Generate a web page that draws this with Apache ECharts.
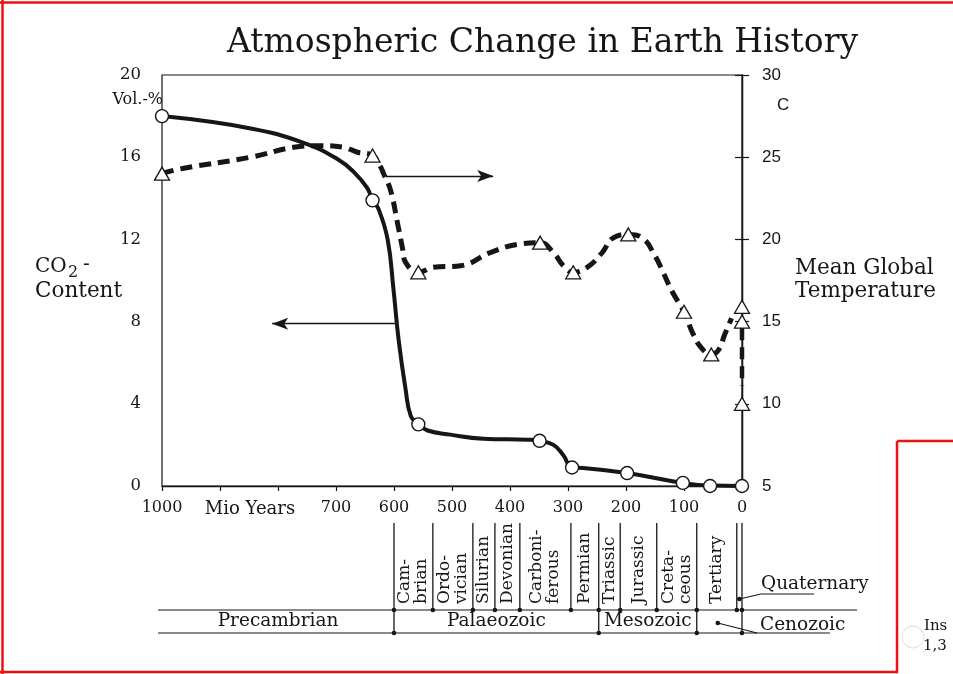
<!DOCTYPE html>
<html>
<head>
<meta charset="utf-8">
<script src="https://cdn.jsdelivr.net/npm/echarts@6/dist/echarts.min.js"></script>
<style>
html,body{margin:0;padding:0;background:#fff;}
#chart{width:953px;height:674px;}
</style>
</head>
<body>
<div id="chart"></div>
<script>
// ---------------- data ----------------
const xTickLabels = ['0','100','200','300','400','500','600','700','','Mio Years','1000'];
// CO2 content (Vol.-%) vs. time (Mio years before present)
const co2Curve = [[1000,18.0],[847,17.4],[756,16.7],[697,15.9],[670,15.3],[646,14.5],[637,13.9],[627,13.5],[611,12.0],[601,9.6],[592,7.1],[580,4.7],[571,3.4],[558,3.0],[542,2.7],[503,2.5],[446,2.3],[370,2.25],[349,2.2],[325,2.0],[308,1.5],[293,0.9],[274,0.88],[198,0.63],[102,0.15],[55,0.02],[0,0]];
const co2Circles = [[1000,18.0],[637,13.9],[558,3.0],[349,2.2],[293,0.9],[198,0.63],[102,0.15],[55,0],[0,0]];
// mean global temperature (C)
const tempCurve = [[1000,24.0],[967,24.3],[847,25.0],[773,25.6],[731,25.7],[687,25.6],[663,25.3],[637,25.1],[623,24.4],[618,24.0],[606,23.0],[594,21.0],[585,19.4],[580,18.6],[558,18.0],[532,18.3],[485,18.4],[434,19.2],[387,19.7],[348,19.8],[325,19.2],[308,18.4],[291,18.0],[267,18.3],[241,19.2],[222,20.1],[196,20.3],[172,20.1],[150,19.0],[136,18.0],[120,16.8],[100,15.6],[85,14.3],[70,13.4],[53,13.0],[40,13.3],[30,14.2],[18,15.2]];
const tempRecentDrop = [[0,14.6],[0,11.1]];
const tempTriangles = [[1000,24.0],[637,25.1],[558,18.0],[348,19.8],[291,18.0],[196,20.3],[100,15.6],[53,13.0],[0,15.9],[0,15.0],[0,10.0]];
// arrows: which axis each curve belongs to
const co2Arrow = [[595,7.9],[810,7.9]];
const tempArrow = [[614,23.86],[429,23.86]];
// geological time scale
const periods = [['Cam-\nbrian',600,533],['Ordo-\nvician',533,464],['Silurian',464,426],['Devonian',426,383],['Carboni-\nferous',383,295],['Permian',295,247],['Triassic',247,210],['Jurassic',210,147],['Creta-\nceous',147,78],['Tertiary',78,9],['Quaternary',9,0]];
const eras = [['Precambrian',1000,600],['Palaeozoic',600,247],['Mesozoic',247,78],['Cenozoic',78,0]];

// ---------------- styles ----------------
const INK = '#161616';
const SERIF = '"DejaVu Serif", serif';
const SANS = '"Liberation Sans", sans-serif';
const ROW1 = 87;   // offset of first table row line inside the table grid
const RED = '#ee1111';

const chart = echarts.init(document.getElementById('chart'), null, {renderer:'canvas'});

function periodItem(params, api) {
  const cs = params.coordSys;
  const x1 = api.coord([api.value(0), 0])[0];
  const x2 = api.coord([api.value(1), 0])[0];
  const top = cs.y, r1 = cs.y + ROW1;
  const name = periods[params.dataIndex][0];
  const ch = [
    {type:'line', shape:{x1:x1, y1:top, x2:x1, y2:r1}, style:{stroke:INK, lineWidth:1.3}},
    {type:'circle', shape:{cx:x1, cy:r1, r:2.3}, style:{fill:INK}}
  ];
  if (params.dataIndex === periods.length - 1) {
    const dx = (x1 + x2) / 2, dy = r1 - 11;
    ch.push({type:'circle', shape:{cx:dx, cy:dy, r:2.3}, style:{fill:INK}});
    ch.push({type:'polyline', shape:{points:[[dx,dy],[x2+19,r1-16],[x2+72,r1-16]]}, style:{stroke:INK, lineWidth:1.2, fill:null}});
    ch.push({type:'text', x:x2+19, y:r1-26, style:{text:name, align:'left', verticalAlign:'middle', fontFamily:SERIF, fontSize:18.5, fill:INK}});
  } else {
    ch.push({type:'text', x:(x1+x2)/2, y:r1-6, rotation:Math.PI/2,
      style:{text:name, align:'left', verticalAlign:'middle', fontFamily:SERIF, fontSize:17, lineHeight:17, fill:INK}});
  }
  return {type:'group', children:ch};
}

function eraItem(params, api) {
  const cs = params.coordSys;
  const x1 = api.coord([api.value(0), 0])[0];
  const x2 = api.coord([api.value(1), 0])[0];
  const top = cs.y, r1 = cs.y + ROW1, r2 = cs.y + cs.height;
  const name = eras[params.dataIndex][0];
  const last = params.dataIndex === eras.length - 1;
  const ch = [];
  if (params.dataIndex === 0) {
    const xr = api.coord([0, 0])[0];
    ch.push({type:'line', shape:{x1:x1-4, y1:r1, x2:xr+115, y2:r1}, style:{stroke:INK, lineWidth:1.2}});
    ch.push({type:'line', shape:{x1:x1-4, y1:r2, x2:xr+88, y2:r2}, style:{stroke:INK, lineWidth:1.2}});
  } else {
    ch.push({type:'line', shape:{x1:x1, y1:r1, x2:x1, y2:r2}, style:{stroke:INK, lineWidth:1.3}});
    ch.push({type:'circle', shape:{cx:x1, cy:r2, r:2.3}, style:{fill:INK}});
  }
  if (last) {
    ch.push({type:'line', shape:{x1:x2, y1:top, x2:x2, y2:r2}, style:{stroke:INK, lineWidth:1.3}});
    ch.push({type:'circle', shape:{cx:x2, cy:r1, r:2.3}, style:{fill:INK}});
    ch.push({type:'circle', shape:{cx:x2, cy:r2, r:2.3}, style:{fill:INK}});
    const dx = x1 + 21, dy = r2 - 10;
    ch.push({type:'circle', shape:{cx:dx, cy:dy, r:2.3}, style:{fill:INK}});
    ch.push({type:'line', shape:{x1:dx, y1:dy, x2:x2+15, y2:r2}, style:{stroke:INK, lineWidth:1.2}});
    ch.push({type:'text', x:x2+18, y:r2-8, style:{text:name, align:'left', verticalAlign:'middle', fontFamily:SERIF, fontSize:18.5, fill:INK}});
  } else {
    ch.push({type:'text', x:(x1+x2)/2, y:(r1+r2)/2, style:{text:name, align:'center', verticalAlign:'middle', fontFamily:SERIF, fontSize:18.5, fill:INK}});
  }
  return {type:'group', children:ch};
}

const option = {
  animation: false,
  backgroundColor: '#fff',
  title: {
    text: 'Atmospheric Change in Earth History',
    left: 222, top: 22,
    textStyle: {fontFamily: SERIF, fontSize: 33, fontWeight: 'normal', color: INK}
  },
  grid: [
    {left:162, right:211, top:75, bottom:188, show:true, borderColor:INK, borderWidth:1.2},
    {left:162, right:211, top:523, bottom:41}
  ],
  xAxis: [
    {type:'value', gridIndex:0, min:0, max:1000, interval:100, inverse:true,
     splitLine:{show:false},
     axisLine:{lineStyle:{color:INK, width:1.3}},
     axisTick:{length:5, lineStyle:{color:INK, width:1.2}},
     axisLabel:{color:INK, fontFamily:SERIF, fontSize:16, margin:14,
       formatter: v => { const s = xTickLabels[Math.round(v/100)]; return s === 'Mio Years' ? '{m|' + s + '}' : s; },
       rich:{m:{fontFamily:SERIF, fontSize:18, color:INK, padding:[0,0,0,60]}}}},
    {type:'value', gridIndex:1, min:0, max:1000, inverse:true, show:false}
  ],
  yAxis: [
    {type:'value', gridIndex:0, min:0, max:20, interval:4, position:'left',
     splitLine:{show:false},
     axisLine:{show:true, lineStyle:{color:INK, width:1.3}},
     axisTick:{show:true, length:7, lineStyle:{color:INK, width:1.2}},
     axisLabel:{color:INK, fontFamily:SERIF, fontSize:16.5, margin:21}},
    {type:'value', gridIndex:0, min:5, max:30, interval:5, position:'right',
     splitLine:{show:false},
     axisLine:{show:true, lineStyle:{color:INK, width:1.3}},
     axisTick:{show:true, length:7, lineStyle:{color:INK, width:1.2}},
     axisLabel:{color:INK, fontFamily:SANS, fontSize:17, margin:20}},
    {type:'value', gridIndex:1, min:0, max:1, show:false}
  ],
  series: [
    {type:'line', name:'CO2', xAxisIndex:0, yAxisIndex:0, data:co2Curve, showSymbol:false,
     smooth:0.45, silent:true,
     lineStyle:{color:INK, width:4}, z:3,
     markLine:{silent:true, symbol:['none','arrow'], symbolSize:[9,16], label:{show:false},
       lineStyle:{type:'solid', color:INK, width:1.3},
       data:[[{coord:co2Arrow[0]},{coord:co2Arrow[1]}]]}},
    {type:'scatter', name:'CO2 points', xAxisIndex:0, yAxisIndex:0, data:co2Circles,
     symbol:'circle', symbolSize:13, silent:true, z:5,
     itemStyle:{color:'#ffffff', opacity:1, borderColor:INK, borderWidth:1.4}},
    {type:'line', name:'Temperature', xAxisIndex:0, yAxisIndex:1, data:tempCurve, showSymbol:false,
     smooth:0.45, silent:true, z:3,
     lineStyle:{color:INK, width:5, type:[12,7], cap:'butt'},
     markLine:{silent:true, symbol:['none','arrow'], symbolSize:[9,16], label:{show:false},
       lineStyle:{type:'solid', color:INK, width:1.3},
       data:[[{coord:tempArrow[0]},{coord:tempArrow[1]}]]}},
    {type:'line', name:'Temperature recent', xAxisIndex:0, yAxisIndex:1, data:tempRecentDrop, showSymbol:false,
     silent:true, z:3, lineStyle:{color:INK, width:4.5, type:[12,7], cap:'butt'}},
    {type:'scatter', name:'Temperature points', xAxisIndex:0, yAxisIndex:1, data:tempTriangles,
     symbol:'triangle', symbolSize:[15,13], silent:true, z:5,
     itemStyle:{color:'#ffffff', opacity:1, borderColor:INK, borderWidth:1.3}},
    {type:'custom', name:'periods', xAxisIndex:1, yAxisIndex:2, silent:true,
     data: periods.map(p => [p[1], p[2], 0]), encode:{x:[0,1], y:2}, renderItem: periodItem},
    {type:'custom', name:'eras', xAxisIndex:1, yAxisIndex:2, silent:true,
     data: eras.map(e => [e[1], e[2], 0]), encode:{x:[0,1], y:2}, renderItem: eraItem}
  ],
  graphic: [
    {type:'text', x:163, y:100, style:{text:'Vol.-%', align:'right', verticalAlign:'middle', fontFamily:SERIF, fontSize:16, fill:INK}},
    {type:'text', x:35, y:267, style:{text:'CO', align:'left', verticalAlign:'middle', fontFamily:SERIF, fontSize:20, fill:INK}},
    {type:'text', x:68, y:273, style:{text:'2', align:'left', verticalAlign:'middle', fontFamily:SERIF, fontSize:16, fill:INK}},
    {type:'text', x:83, y:265, style:{text:'-', align:'left', verticalAlign:'middle', fontFamily:SERIF, fontSize:20, fill:INK}},
    {type:'text', x:35, y:291, style:{text:'Content', align:'left', verticalAlign:'middle', fontFamily:SERIF, fontSize:21.5, fill:INK}},
    {type:'text', x:777, y:105, style:{text:'C', align:'left', verticalAlign:'middle', fontFamily:SANS, fontSize:17, fill:INK}},
    {type:'text', x:795, y:268, style:{text:'Mean Global', align:'left', verticalAlign:'middle', fontFamily:SERIF, fontSize:21.5, fill:INK}},
    {type:'text', x:795, y:291, style:{text:'Temperature', align:'left', verticalAlign:'middle', fontFamily:SERIF, fontSize:21.5, fill:INK}},
    // framing marks of the source page
    {type:'line', shape:{x1:0, y1:2.5, x2:953, y2:2.5}, style:{stroke:RED, lineWidth:2.5}},
    {type:'line', shape:{x1:2.5, y1:0, x2:2.5, y2:674}, style:{stroke:RED, lineWidth:2.5}},
    {type:'line', shape:{x1:0, y1:672, x2:898, y2:672}, style:{stroke:RED, lineWidth:2.5}},
    {type:'line', shape:{x1:897, y1:441, x2:897, y2:673}, style:{stroke:RED, lineWidth:2.5}},
    {type:'line', shape:{x1:897, y1:441, x2:953, y2:441}, style:{stroke:RED, lineWidth:2.5}},
    {type:'circle', shape:{cx:913, cy:637, r:11}, style:{fill:null, stroke:'#dddddd', lineWidth:1}},
    {type:'text', x:924, y:626, style:{text:'Ins', align:'left', verticalAlign:'middle', fontFamily:SERIF, fontSize:15, fill:INK}},
    {type:'text', x:923, y:646, style:{text:'1,3', align:'left', verticalAlign:'middle', fontFamily:SERIF, fontSize:15, fill:INK}}
  ]
};
chart.setOption(option);
</script>
</body>
</html>
